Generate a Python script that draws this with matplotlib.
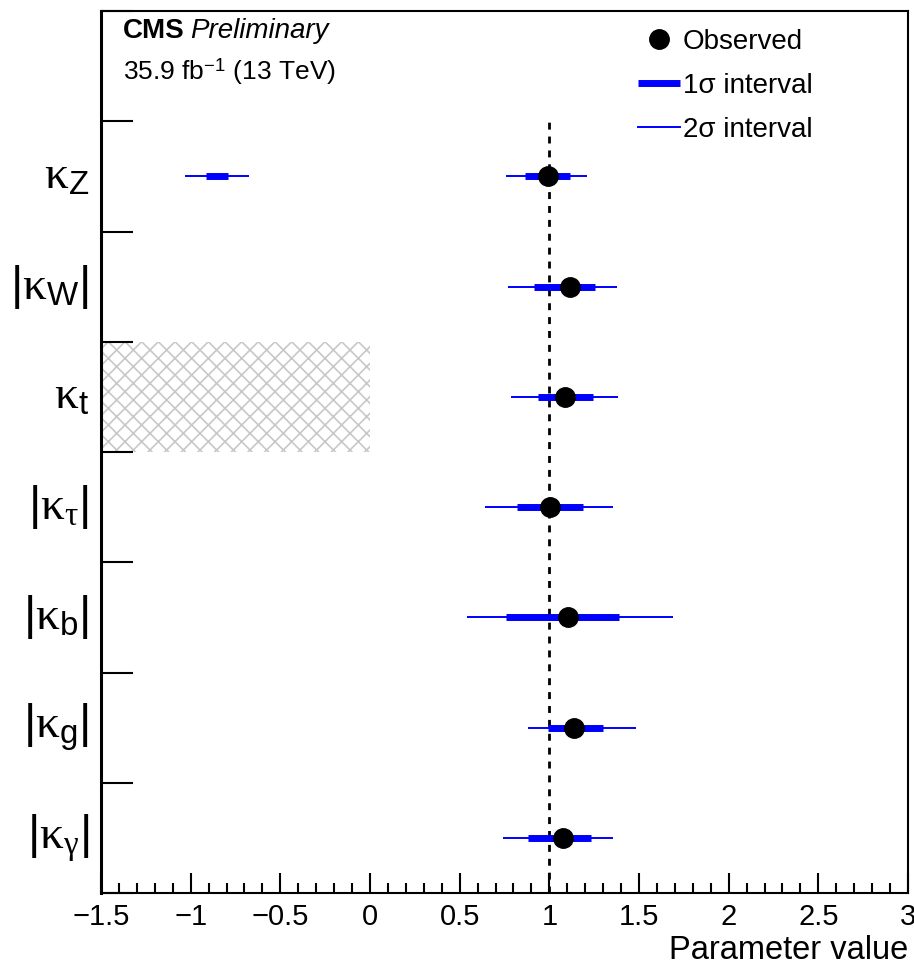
import matplotlib
matplotlib.use("Agg")
import matplotlib.pyplot as plt
from matplotlib.lines import Line2D
from matplotlib.ticker import MultipleLocator

plt.rcParams['font.family'] = ['Liberation Sans', 'DejaVu Sans']
plt.rcParams['mathtext.fontset'] = 'custom'
plt.rcParams['mathtext.rm'] = 'Liberation Serif'
plt.rcParams['mathtext.it'] = 'Liberation Serif:italic'
plt.rcParams['mathtext.sf'] = 'Liberation Sans'
plt.rcParams['hatch.color'] = '#c8c8c8'
plt.rcParams['hatch.linewidth'] = 1.2

# ---- data (top to bottom) ----
labels = [r'$\mathrm{\kappa}_{\mathsf{Z}}$',
          r'$\mathsf{|}\mathrm{\kappa}_{\mathsf{W}}\mathsf{|}$',
          r'$\mathrm{\kappa}_{\mathsf{t}}$',
          r'$\mathsf{|}\mathrm{\kappa}_{\mathrm{\tau}}\mathsf{|}$',
          r'$\mathsf{|}\mathrm{\kappa}_{\mathsf{b}}\mathsf{|}$',
          r'$\mathsf{|}\mathrm{\kappa}_{\mathsf{g}}\mathsf{|}$',
          r'$\mathsf{|}\mathrm{\kappa}_{\mathrm{\gamma}}\mathsf{|}$']
observed = [0.990, 1.117, 1.089, 1.006, 1.104, 1.136, 1.074]
lo1 = [0.864, 0.912, 0.939, 0.820, 0.758, 0.993, 0.879]
hi1 = [1.115, 1.257, 1.244, 1.186, 1.387, 1.300, 1.233]
lo2 = [0.760, 0.767, 0.788, 0.641, 0.539, 0.881, 0.742]
hi2 = [1.212, 1.376, 1.383, 1.355, 1.692, 1.484, 1.355]
# second (negative) solution for kappa_Z
kz_neg_1sigma = [-0.916, -0.790]
kz_neg_2sigma = [-1.033, -0.674]
# excluded region for kappa_t
kt_excluded = [-1.5, 0.0]

n = len(labels)
ypos = [n - 1 - i + 0.5 for i in range(n)]  # kappa_Z at top

fig = plt.figure(figsize=(9.14, 9.65), dpi=100)
ax = fig.add_axes([101/914, 1 - 893/965, 807/914, 882/965])
ax.set_xlim(-1.5, 3.0)
ax.set_ylim(0, n + 1)

# hatched excluded region
it = 2
ax.fill_between(kt_excluded, ypos[it] - 0.5, ypos[it] + 0.5,
                facecolor='none', edgecolor='#c8c8c8', hatch='xx', linewidth=0, zorder=1)

# SM reference line
ax.plot([1, 1], [0, n], color='black', lw=2.0, ls=(0, (2.5, 2.5)), zorder=2)

blue = '#0000ff'
for i in range(n):
    y = ypos[i]
    ax.plot([lo2[i], hi2[i]], [y, y], color=blue, lw=1.4, solid_capstyle='butt', zorder=3)
    ax.plot([lo1[i], hi1[i]], [y, y], color=blue, lw=5.0, solid_capstyle='butt', zorder=4)
ax.plot(kz_neg_2sigma, [ypos[0]] * 2, color=blue, lw=1.4, solid_capstyle='butt', zorder=3)
ax.plot(kz_neg_1sigma, [ypos[0]] * 2, color=blue, lw=5.0, solid_capstyle='butt', zorder=4)
ax.plot(observed, ypos, 'o', color='black', markersize=14, zorder=5)

# axes styling
for s in ax.spines.values():
    s.set_linewidth(1.5)
ax.spines['left'].set_linewidth(2.2)
ax.xaxis.set_major_locator(MultipleLocator(0.5))
ax.xaxis.set_minor_locator(MultipleLocator(0.1))
ax.tick_params(axis='x', which='major', direction='in', length=14.5, width=1.5,
               labelsize=21, pad=7, top=False)
ax.tick_params(axis='x', which='minor', direction='in', length=7, width=1.5, top=False)
ax.set_xticks([-1.5, -1, -0.5, 0, 0.5, 1, 1.5, 2, 2.5, 3])
ax.set_xticklabels(['\u22121.5', '\u22121', '\u22120.5', '0', '0.5', '1', '1.5', '2', '2.5', '3'])

ax.set_yticks(range(0, n + 2))
ax.tick_params(axis='y', which='major', direction='in', length=23, width=1.5,
               left=True, right=False, labelleft=False)
for i in range(n):
    ax.text(-0.015, ypos[i], labels[i], transform=ax.get_yaxis_transform(),
            ha='right', va='center', fontsize=34)

ax.set_xlabel('Parameter value', fontsize=23.5, loc='right', labelpad=3)

# CMS labels
cms = ax.text(0.027, 0.9695, 'CMS', transform=ax.transAxes, fontsize=20,
              fontweight='bold', ha='left', va='baseline')
ax.annotate('Preliminary', xy=(1, 0), xycoords=cms, xytext=(6, 0),
            textcoords='offset pixels', fontsize=20, style='italic',
            ha='left', va='bottom')
ax.text(0.027, 0.9225, r'35.9 fb$^{\mathsf{-1}}$ (13 TeV)', transform=ax.transAxes,
        fontsize=19, ha='left', va='baseline')

handles = [Line2D([], [], marker='o', color='black', ls='none', markersize=14),
           Line2D([], [], color=blue, lw=5.0, solid_capstyle='butt'),
           Line2D([], [], color=blue, lw=1.4)]
ax.legend(handles, ['Observed', '1\u03c3 interval', '2\u03c3 interval'],
          loc='upper left', bbox_to_anchor=((638 - 101) / 807, (893 - 29) / 882),
          frameon=False, fontsize=20, handlelength=1.5, handletextpad=0.12,
          labelspacing=0.64, borderpad=0, borderaxespad=0)

fig.savefig('out.png', dpi=100)
